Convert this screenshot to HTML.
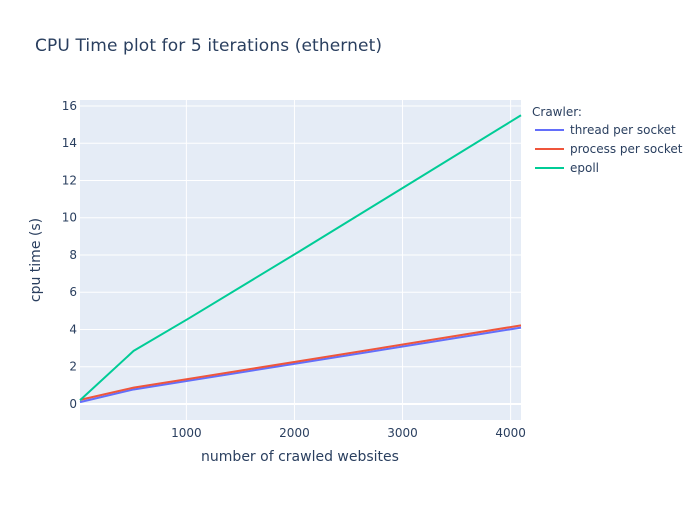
<!DOCTYPE html>
<html><head><meta charset="utf-8"><style>
body{margin:0;background:#fff}
svg{font-family:"DejaVu Sans","Liberation Sans",sans-serif}
</style></head><body>
<svg id="chart" width="700" height="500" xmlns="http://www.w3.org/2000/svg">
<rect width="700" height="500" fill="#fff"/>
<rect x="80" y="100" width="441" height="320" fill="#e5ecf6"/>
<g id="grid"></g>
<g id="lines"></g>
<g id="ticks" fill="#2a3f5f" font-size="12"></g>
<text x="35" y="51" font-size="17" fill="#2a3f5f" textLength="347">CPU Time plot for 5 iterations (ethernet)</text>
<text x="300" y="461" font-size="14" fill="#2a3f5f" text-anchor="middle">number of crawled websites</text>
<text x="40" y="260" font-size="14" fill="#2a3f5f" text-anchor="middle" transform="rotate(-90 40 260)">cpu time (s)</text>
<g id="legend" font-size="12" fill="#2a3f5f">
<text x="532" y="116">Crawler:</text>
</g>
</svg>
<script>
const xValues=[16,512,1024,2048,4096];
const threadValues=[0.1,0.78,1.25,2.2,4.1];
const processValues=[0.22,0.88,1.35,2.3,4.22];
const epollValues=[0.2,2.85,4.6,8.2,15.5];
const seriesNames=["thread per socket","process per socket","epoll"];
const xTicks=[1000,2000,3000,4000];
const yTicks=[0,2,4,6,8,10,12,14,16];
const NS="http://www.w3.org/2000/svg";
const X0=80,X1=521,Y0=100,Y1=420;
const xMin=16,xMax=4096,yMin=-0.86,yMax=16.32;
function sx(v){return X0+(v-xMin)/(xMax-xMin)*(X1-X0);}
function sy(v){return Y1-(v-yMin)/(yMax-yMin)*(Y1-Y0);}
function mk(t,a,p){const e=document.createElementNS(NS,t);for(const k in a)e.setAttribute(k,a[k]);p.appendChild(e);return e;}
const grid=document.getElementById('grid'),ticks=document.getElementById('ticks'),lines=document.getElementById('lines'),legend=document.getElementById('legend');
xTicks.forEach(v=>{
  const l=mk('line',{x1:sx(v),x2:sx(v),y1:Y0,y2:Y1,stroke:'#fff','stroke-width':1},grid);
  
  
  const t=mk('text',{x:sx(v),y:Y1+17,'text-anchor':'middle'},ticks);t.textContent=v;
  
  
});
yTicks.forEach(v=>{
  const l=mk('line',{x1:X0,x2:X1,y1:sy(v),y2:sy(v),stroke:'#fff','stroke-width':v===0?2:1},grid);
  
  
  const t=mk('text',{x:X0-3,y:sy(v)+4,'text-anchor':'end'},ticks);t.textContent=v;
  
  
});
const series=[threadValues,processValues,epollValues];
const colors=['#636efa','#ef553b','#00cc96'];
series.forEach((s,i)=>{
  const p=mk('polyline',{points:xValues.map((x,j)=>sx(x)+','+sy(s[j])).join(' '),fill:'none',stroke:colors[i],'stroke-width':2,'stroke-linejoin':'round'},lines);
  
  
  const y=130+i*19;
  const ll=mk('line',{x1:535,x2:564,y1:y,y2:y,stroke:colors[i],'stroke-width':2},legend);
  
  
  const t=mk('text',{x:570,y:y+4},legend);t.textContent=seriesNames[i];
  
  
});
</script>
</body></html>
